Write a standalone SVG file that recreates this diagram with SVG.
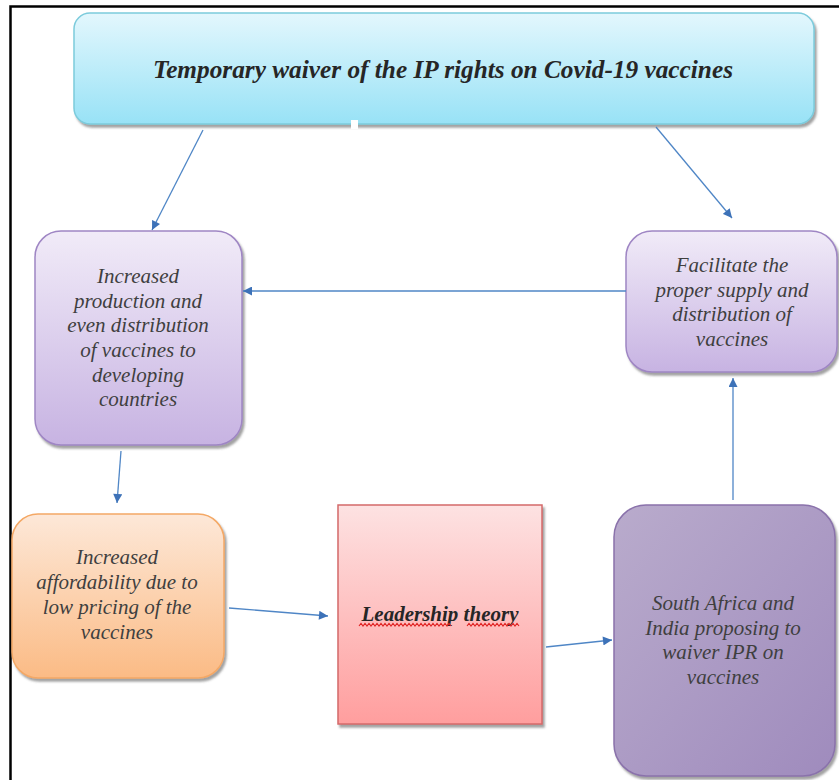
<svg xmlns="http://www.w3.org/2000/svg" width="839" height="780" viewBox="0 0 839 780">
<style>
.node text{font-family:"Liberation Serif","Times New Roman",serif;font-style:italic;fill:#3f3f3f;font-size:21px;text-anchor:middle}
.conn line{stroke:#4f86c6;stroke-width:1.3;fill:none}
.frame{stroke:#000;stroke-width:2.5;fill:none}
.wave{fill:none;stroke:#e02020;stroke-width:1.1}
</style>
<defs>
<linearGradient id="gTop" x1="0" y1="0" x2="0" y2="1"><stop offset="0" stop-color="#e3f7fd"/><stop offset="1" stop-color="#98e2f6"/></linearGradient>
<linearGradient id="gPurple" x1="0" y1="0" x2="0" y2="1"><stop offset="0" stop-color="#f1ebf8"/><stop offset="1" stop-color="#c7b3e2"/></linearGradient>
<linearGradient id="gOrange" x1="0" y1="0" x2="0" y2="1"><stop offset="0" stop-color="#fde8d8"/><stop offset="1" stop-color="#fbbb85"/></linearGradient>
<linearGradient id="gRed" x1="0" y1="0" x2="0" y2="1"><stop offset="0" stop-color="#fde2e2"/><stop offset="1" stop-color="#ff9e9e"/></linearGradient>
<linearGradient id="gDark" x1="0" y1="0" x2="1" y2="1"><stop offset="0" stop-color="#b9abcc"/><stop offset="1" stop-color="#9f8bbd"/></linearGradient>
<filter id="sh" x="-10%" y="-10%" width="130%" height="130%"><feDropShadow dx="2" dy="3" stdDeviation="1.2" flood-color="#555" flood-opacity="0.55"/></filter>
<marker id="arr" viewBox="0 0 10 10" refX="10" refY="5" markerWidth="10" markerHeight="9" markerUnits="userSpaceOnUse" orient="auto"><path d="M0,0 L10,5 L0,10 z" fill="#3d72b8"/></marker>
</defs>
<path class="frame" d="M10.5,780 V6.5 H839"/>
<g id="n-top" class="node">
<rect x="74" y="13" width="740" height="111" rx="16" fill="url(#gTop)" stroke="#7ccbdc" stroke-width="1.5" filter="url(#sh)"/>
<rect x="351" y="120" width="7" height="9" fill="#fff"/>
<text x="443" y="78" style="font-weight:bold;font-size:25px;fill:#262626" textLength="580" lengthAdjust="spacingAndGlyphs">Temporary waiver of the IP rights on Covid-19 vaccines</text>
</g>
<g id="n-production" class="node">
<rect x="35" y="231" width="207" height="214" rx="26" fill="url(#gPurple)" stroke="#9f86c4" stroke-width="1.5" filter="url(#sh)"/>
<text x="138" y="283">Increased</text>
<text x="138" y="308">production and</text>
<text x="138" y="332">even distribution</text>
<text x="138" y="357">of vaccines to</text>
<text x="138" y="382">developing</text>
<text x="138" y="406">countries</text>
</g>
<g id="n-facilitate" class="node">
<rect x="626" y="231" width="211" height="141" rx="26" fill="url(#gPurple)" stroke="#9f86c4" stroke-width="1.5" filter="url(#sh)"/>
<text x="732" y="272">Facilitate the</text>
<text x="732" y="297">proper supply and</text>
<text x="732" y="321">distribution of</text>
<text x="732" y="346">vaccines</text>
</g>
<g id="n-afford" class="node">
<rect x="12" y="514" width="212" height="164" rx="26" fill="url(#gOrange)" stroke="#f4a865" stroke-width="1.5" filter="url(#sh)"/>
<text x="117" y="564">Increased</text>
<text x="117" y="589">affordability due to</text>
<text x="117" y="614">low pricing of the</text>
<text x="117" y="639">vaccines</text>
</g>
<g id="n-leadership" class="node">
<rect x="338" y="505" width="204" height="219" fill="url(#gRed)" stroke="#d46a6a" stroke-width="1.5" filter="url(#sh)"/>
<text x="440" y="621" style="font-weight:bold;font-size:21px;fill:#262626">Leadership theory</text>
<path class="wave" d="M359,626 l2,-2.5 l2,2.5 l2,-2.5 l2,2.5 l2,-2.5 l2,2.5 l2,-2.5 l2,2.5 l2,-2.5 l2,2.5 l2,-2.5 l2,2.5 l2,-2.5 l2,2.5 l2,-2.5 l2,2.5 l2,-2.5 l2,2.5 l2,-2.5 l2,2.5 l2,-2.5 l2,2.5 l2,-2.5 l2,2.5 l2,-2.5 l2,2.5 l2,-2.5 l2,2.5 l2,-2.5 l2,2.5 l2,-2.5 l2,2.5 l2,-2.5 l2,2.5 l2,-2.5 l2,2.5 l2,-2.5 l2,2.5 l2,-2.5 l2,2.5 l2,-2.5 l2,2.5 l2,-2.5 l2,2.5 l2,-2.5 l2,2.5"/>
<path class="wave" d="M467,626 l2,-2.5 l2,2.5 l2,-2.5 l2,2.5 l2,-2.5 l2,2.5 l2,-2.5 l2,2.5 l2,-2.5 l2,2.5 l2,-2.5 l2,2.5 l2,-2.5 l2,2.5 l2,-2.5 l2,2.5 l2,-2.5 l2,2.5 l2,-2.5 l2,2.5 l2,-2.5 l2,2.5 l2,-2.5 l2,2.5 l2,-2.5 l2,2.5"/>
</g>
<g id="n-proposal" class="node">
<rect x="614" y="505" width="221" height="271" rx="32" fill="url(#gDark)" stroke="#8a72ab" stroke-width="1.5" filter="url(#sh)"/>
<text x="723" y="610">South Africa and</text>
<text x="723" y="635">India proposing to</text>
<text x="723" y="659">waiver IPR on</text>
<text x="723" y="684">vaccines</text>
</g>
<g id="connectors" class="conn">
<line x1="203" y1="130" x2="152" y2="230" marker-end="url(#arr)"/>
<line x1="656" y1="127" x2="732" y2="218" marker-end="url(#arr)"/>
<line x1="626" y1="291" x2="243" y2="291" marker-end="url(#arr)"/>
<line x1="121" y1="451" x2="117" y2="503" marker-end="url(#arr)"/>
<line x1="229" y1="608" x2="328" y2="616" marker-end="url(#arr)"/>
<line x1="546" y1="647" x2="612" y2="640" marker-end="url(#arr)"/>
<line x1="733" y1="500" x2="733" y2="378" marker-end="url(#arr)"/>
</g>
</svg>
